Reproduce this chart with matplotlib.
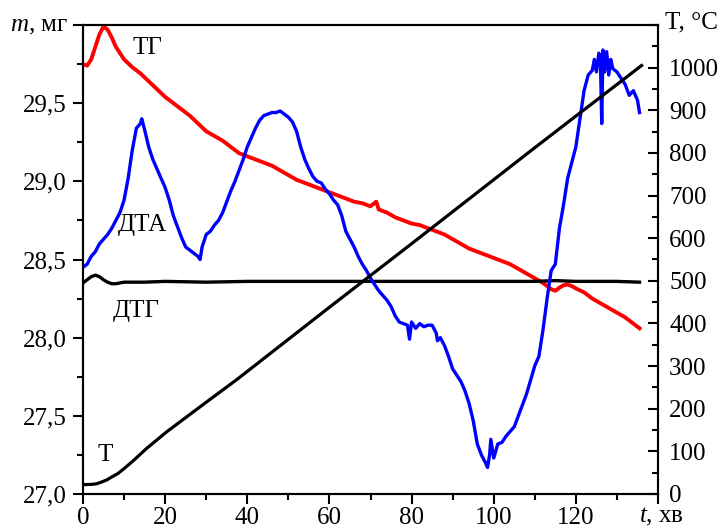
"""
TG / DTG / DTA / T thermogram (ТГ, ДТГ, ДТА, Т)
"""

import numpy as np
import matplotlib
matplotlib.use("Agg")
import matplotlib.pyplot as plt
from matplotlib.ticker import MultipleLocator, FuncFormatter

plt.rcParams['font.family'] = ['Liberation Serif', 'DejaVu Serif']
plt.rcParams['mathtext.fontset'] = 'custom'
plt.rcParams['mathtext.it'] = 'Liberation Serif:italic'
plt.rcParams['mathtext.rm'] = 'Liberation Serif'

# ТГ, mass in mg (left axis)
tg_t = [0, 1, 2, 3, 4, 5, 6, 7, 8, 9, 10, 12, 14, 16, 18, 20, 22, 24, 26, 28,
        30, 32, 34, 36, 38, 40, 42, 44, 46, 48, 50, 52, 54, 56, 58, 60, 62, 64,
        66, 68, 70, 71.4, 72, 74, 76, 78, 80, 82, 84, 86, 88, 90, 92, 94, 96,
        98, 100, 102, 104, 106, 108, 110, 112, 113, 114, 115, 116, 117, 118,
        119, 120, 122, 124, 126, 128, 130, 132, 134, 135.5]
tg_m = [29.75, 29.74, 29.78, 29.86, 29.94, 29.99, 29.97, 29.92, 29.86, 29.82,
        29.78, 29.73, 29.69, 29.64, 29.59, 29.54, 29.50, 29.46, 29.42, 29.37,
        29.32, 29.29, 29.26, 29.22, 29.18, 29.16, 29.14, 29.12, 29.10, 29.07,
        29.04, 29.01, 28.99, 28.97, 28.95, 28.93, 28.91, 28.89, 28.87, 28.86,
        28.84, 28.87, 28.82, 28.80, 28.77, 28.75, 28.73, 28.72, 28.70, 28.68,
        28.66, 28.63, 28.60, 28.57, 28.55, 28.53, 28.51, 28.49, 28.47, 28.44,
        28.41, 28.38, 28.35, 28.33, 28.31, 28.30, 28.32, 28.335, 28.34, 28.33,
        28.315, 28.29, 28.25, 28.22, 28.19, 28.16, 28.13, 28.09, 28.06]

# ДТГ, drawn on the mass axis
dtg_t = [0, 1, 2, 3, 4, 5, 6, 7, 8, 9, 10, 15, 20, 30, 40, 50, 60, 70, 80,
         90, 100, 110, 115, 120, 130, 135.5]
dtg_m = [28.35, 28.37, 28.39, 28.40, 28.39, 28.37, 28.355, 28.345, 28.345,
         28.35, 28.355, 28.355, 28.36, 28.355, 28.36, 28.36, 28.36, 28.36,
         28.36, 28.36, 28.36, 28.36, 28.365, 28.36, 28.36, 28.355]

# ДТА, drawn on the mass axis (arbitrary units)
dta_t = [0, 1, 2, 3, 4, 5, 6, 7, 8, 9, 10, 11, 12, 13, 14, 14.3, 15, 16, 17,
         18, 19, 20, 21, 22, 23, 24, 25, 26, 27, 28, 28.5, 29, 30, 31, 32, 33,
         34, 35, 36, 37, 38, 39, 40, 41, 42, 43, 44, 45, 46, 47, 48, 49, 50,
         51, 52, 53, 54, 55, 56, 57, 58, 59, 60, 61, 62, 63, 64, 65, 66, 67,
         68, 69, 70, 71, 72, 73, 74, 75, 76, 77, 78, 79, 79.5, 80, 81, 82, 83,
         84, 85, 86, 86.3, 87, 88, 89, 90, 91, 92, 93, 94, 95, 96, 97, 98,
         98.5, 99, 99.3, 100, 101, 102, 103, 104, 105, 106, 107, 108, 109,
         110, 111, 112, 113, 114, 115, 116, 117, 118, 119, 120, 121, 122, 123,
         124, 124.5, 125, 125.6, 126, 126.3, 126.6, 127, 127.5, 128, 128.5,
         129, 130, 131, 132, 133, 134, 135, 135.5]
dta_v = [28.45, 28.47, 28.52, 28.55, 28.60, 28.63, 28.66, 28.70, 28.75, 28.80,
         28.88, 29.02, 29.20, 29.34, 29.37, 29.40, 29.33, 29.22, 29.14, 29.08,
         29.02, 28.96, 28.88, 28.78, 28.71, 28.64, 28.58, 28.56, 28.54, 28.52,
         28.50, 28.58, 28.66, 28.68, 28.72, 28.75, 28.80, 28.87, 28.94, 29.00,
         29.07, 29.14, 29.22, 29.28, 29.34, 29.39, 29.42, 29.43, 29.44, 29.44,
         29.45, 29.43, 29.41, 29.38, 29.32, 29.22, 29.14, 29.08, 29.03, 29.00,
         28.99, 28.95, 28.92, 28.88, 28.85, 28.78, 28.68, 28.63, 28.58, 28.52,
         28.47, 28.43, 28.38, 28.34, 28.30, 28.27, 28.24, 28.20, 28.14, 28.10,
         28.09, 28.08, 27.99, 28.10, 28.06, 28.09, 28.07, 28.08, 28.08, 28.03,
         27.98, 28.00, 27.95, 27.88, 27.80, 27.76, 27.72, 27.66, 27.58, 27.47,
         27.32, 27.25, 27.20, 27.17, 27.25, 27.35, 27.23, 27.32, 27.33, 27.37,
         27.40, 27.43, 27.50, 27.57, 27.64, 27.73, 27.82, 27.88, 28.05, 28.25,
         28.43, 28.47, 28.70, 28.85, 29.02, 29.12, 29.22, 29.40, 29.58, 29.68,
         29.71, 29.78, 29.70, 29.82, 29.75, 29.37, 29.84, 29.70, 29.83, 29.68,
         29.78, 29.72, 29.70, 29.66, 29.62, 29.55, 29.58, 29.52, 29.44]

# T, °C (right axis)
temp_t = [0, 2, 3.3, 4.5, 5.8, 7, 8.5, 9.8, 12, 15.5, 20.4, 30.1, 37.4, 59.2,
          80, 109.3, 136]
temp_c = [22, 22.5, 24, 28, 33, 40, 48, 58, 76, 107, 146, 216, 268, 432, 587,
          807, 1005]

fs = 18
fig = plt.figure(figsize=(7.21, 5.27), dpi=100)
ax = fig.add_axes([83 / 721, 33 / 527, 575 / 721, 469 / 527])
ax2 = ax.twinx()

ax.plot(tg_t, tg_m, color='#ff0000', lw=2.8, zorder=3)
ax.plot(dta_t, dta_v, color='#0000ff', lw=2.4, zorder=4)
ax.plot(dtg_t, dtg_m, color='black', lw=2.4, zorder=3)
ax2.plot(temp_t, temp_c, color='black', lw=2.3)

ax.set_xlim(0, 140)
ax.set_ylim(27.0, 30.0)
ax2.set_ylim(0, 1100)

ax.xaxis.set_major_locator(MultipleLocator(20))
ax.xaxis.set_minor_locator(MultipleLocator(10))
ax.yaxis.set_major_locator(MultipleLocator(0.5))
ax.yaxis.set_minor_locator(MultipleLocator(0.25))
ax2.yaxis.set_major_locator(MultipleLocator(100))
ax2.yaxis.set_minor_locator(MultipleLocator(50))

ax.xaxis.set_major_formatter(FuncFormatter(lambda v, p: '' if v > 130 else f'{v:.0f}'))
ax.yaxis.set_major_formatter(FuncFormatter(
    lambda v, p: '' if v > 29.9 else f'{v:.1f}'.replace('.', ',')))
ax2.yaxis.set_major_formatter(FuncFormatter(lambda v, p: '' if v > 1050 else f'{v:.0f}'))

ax.tick_params(axis='x', which='major', direction='out', length=7, width=1.5,
               labelsize=fs, pad=2, top=False)
ax.tick_params(axis='x', which='minor', direction='out', length=4, width=1.5, top=False)
ax.tick_params(axis='y', which='major', direction='out', length=7, width=1.5,
               labelsize=fs, pad=5, right=False)
ax.tick_params(axis='y', which='minor', direction='out', length=4, width=1.5, right=False)
ax2.tick_params(axis='y', which='major', direction='in', length=7, width=1.5,
                labelsize=fs, pad=8)
ax2.tick_params(axis='y', which='minor', direction='in', length=4, width=1.5)

for a in (ax, ax2):
    for s in a.spines.values():
        s.set_linewidth(1.5)

# curve labels
ax.text(15.8, 29.85, 'ТГ', fontsize=fs, ha='center', va='center')
ax.text(14.4, 28.72, 'ДТА', fontsize=fs, ha='center', va='center')
ax.text(12.9, 28.17, 'ДТГ', fontsize=fs, ha='center', va='center')
ax.text(5.4, 27.25, 'Т', fontsize=fs, ha='center', va='center')

# axis titles
fig.text(10 / 721, 1 - 26 / 527, r'$m$, мг', fontsize=fs, ha='left', va='center')
fig.text(665 / 721, 1 - 22 / 527, 'T, °C', fontsize=fs, ha='left', va='center')
fig.text(639 / 721, 1 - 517 / 527, r'$t$, хв', fontsize=fs, ha='left', va='center')

fig.savefig('out.png', dpi=100)
